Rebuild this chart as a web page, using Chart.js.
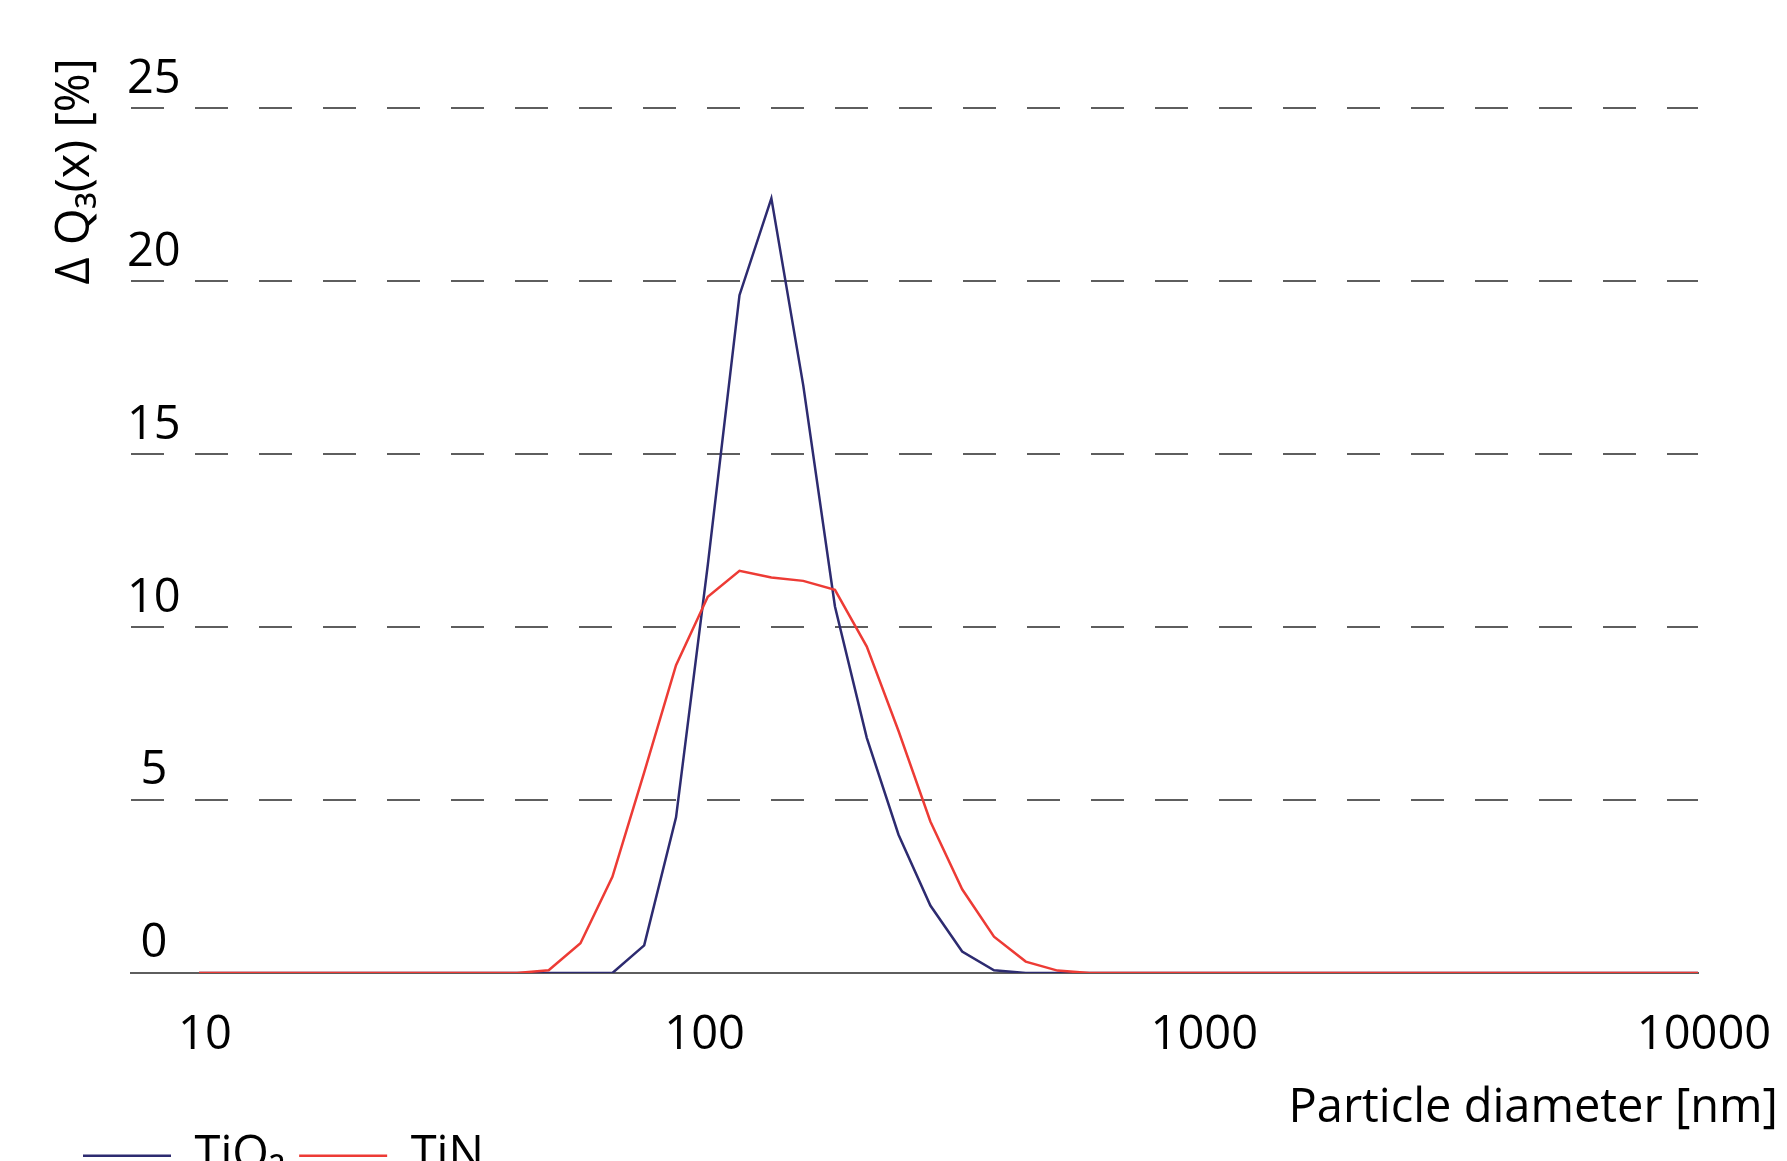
<!DOCTYPE html>
<html>
<head>
<meta charset="utf-8">
<script src="https://cdn.jsdelivr.net/npm/chart.js@4.4.1/dist/chart.umd.min.js"></script>
<style>
  html, body { margin: 0; padding: 0; background: #fff; overflow: hidden; }
  #wrap { width: 1787px; height: 1161px; position: relative; }
</style>
</head>
<body>
<div id="wrap"><canvas id="psd"></canvas></div>
<script>
// particle size classes [nm]
var sizes = [10, 43.3, 50.1, 58.0, 67.2, 77.8, 90.1, 104.3, 120.7, 139.8, 161.9, 187.4, 217.0, 251.2, 290.9, 336.8, 390.0, 451.4, 522.7, 605.2, 10000];

// delta Q3 [%] for each class
var tio2 = [0, 0, 0, 0, 0, 0.8, 4.5, 11.8, 19.6, 22.4, 17.0, 10.6, 6.8, 4.0, 1.95, 0.62, 0.08, 0, 0, 0, 0];
var tin = [0, 0, 0.08, 0.86, 2.78, 5.8, 8.9, 10.88, 11.63, 11.44, 11.34, 11.08, 9.44, 7.0, 4.38, 2.42, 1.05, 0.33, 0.07, 0, 0];

// axis ticks
var xTicks = [10, 100, 1000, 10000];
var yStep = 5;

var navy = "#2d2b70";
var red = "#ed3b35";
var gridGrey = "#5e5e5e";

function toPoints(values) {
  return sizes.map(function (s, i) { return { x: s, y: values[i] }; });
}

Chart.defaults.font.family = "'Open Sans', sans-serif";
Chart.defaults.color = "#000";

var ctx = document.getElementById("psd").getContext("2d");

new Chart(ctx, {
  type: "line",
  data: {
    datasets: [
      {
        label: "TiO\u2082",
        data: toPoints(tio2),
        borderColor: navy,
        backgroundColor: navy,
        borderWidth: 2.5,
        pointRadius: 0,
        tension: 0,
        order: 1
      },
      {
        label: "TiN",
        data: toPoints(tin),
        borderColor: red,
        backgroundColor: red,
        borderWidth: 2.5,
        pointRadius: 0,
        tension: 0,
        order: 0
      }
    ]
  },
  options: {
    responsive: true,
    maintainAspectRatio: false,
    animation: false,
    devicePixelRatio: 1,
    layout: {
      padding: { top: 58, left: 69, right: 9, bottom: 0 }
    },
    plugins: {
      tooltip: { enabled: false },
      legend: {
        position: "bottom",
        align: "start",
        maxHeight: 42.8,
        labels: {
          usePointStyle: true,
          pointStyle: "line",
          pointStyleWidth: 88,
          padding: 14,
          font: { size: 47 },
          color: "#000",
          sort: function (a, b) { return a.datasetIndex - b.datasetIndex; }
        }
      },
      title: {
        display: true,
        text: "Particle diameter [nm]",
        position: "bottom",
        align: "end",
        weight: 500,
        color: "#000",
        font: { size: 47, weight: "normal", lineHeight: 0.4 },
        padding: { top: 0, bottom: 0 }
      }
    },
    scales: {
      x: {
        type: "logarithmic",
        min: 7.31,
        max: 10000,
        afterBuildTicks: function (scale) {
          scale.ticks = xTicks.map(function (v) { return { value: v }; });
        },
        afterFit: function (scale) {
          // room on the right so the plot ends at the 10000 tick
          scale.paddingRight = 89;
          // fixed axis band so the plot floor sits where the reference has it
          scale.height = 126.4;
        },
        grid: { display: false },
        border: { display: true, color: gridGrey, width: 2 },
        ticks: {
          autoSkip: false,
          maxRotation: 0,
          padding: 26,
          labelOffset: 6,
          font: { size: 47 },
          color: "#000",
          callback: function (v) { return String(v); }
        }
      },
      y: {
        min: 0,
        max: 26.46,
        grid: {
          color: gridGrey,
          lineWidth: 2,
          drawTicks: false
        },
        border: { display: false, dash: [33, 31] },
        ticks: {
          stepSize: yStep,
          includeBounds: false,
          mirror: true,
          crossAlign: "center",
          padding: -4,
          labelOffset: -29,
          font: { size: 47 },
          color: "#000"
        },
        title: {
          display: true,
          text: "\u0394 Q\u2083(x) [%]",
          align: "end",
          color: "#000",
          font: { size: 47, lineHeight: 1 },
          padding: { top: -17, bottom: 40 }
        }
      }
    }
  }
});
</script>
</body>
</html>
